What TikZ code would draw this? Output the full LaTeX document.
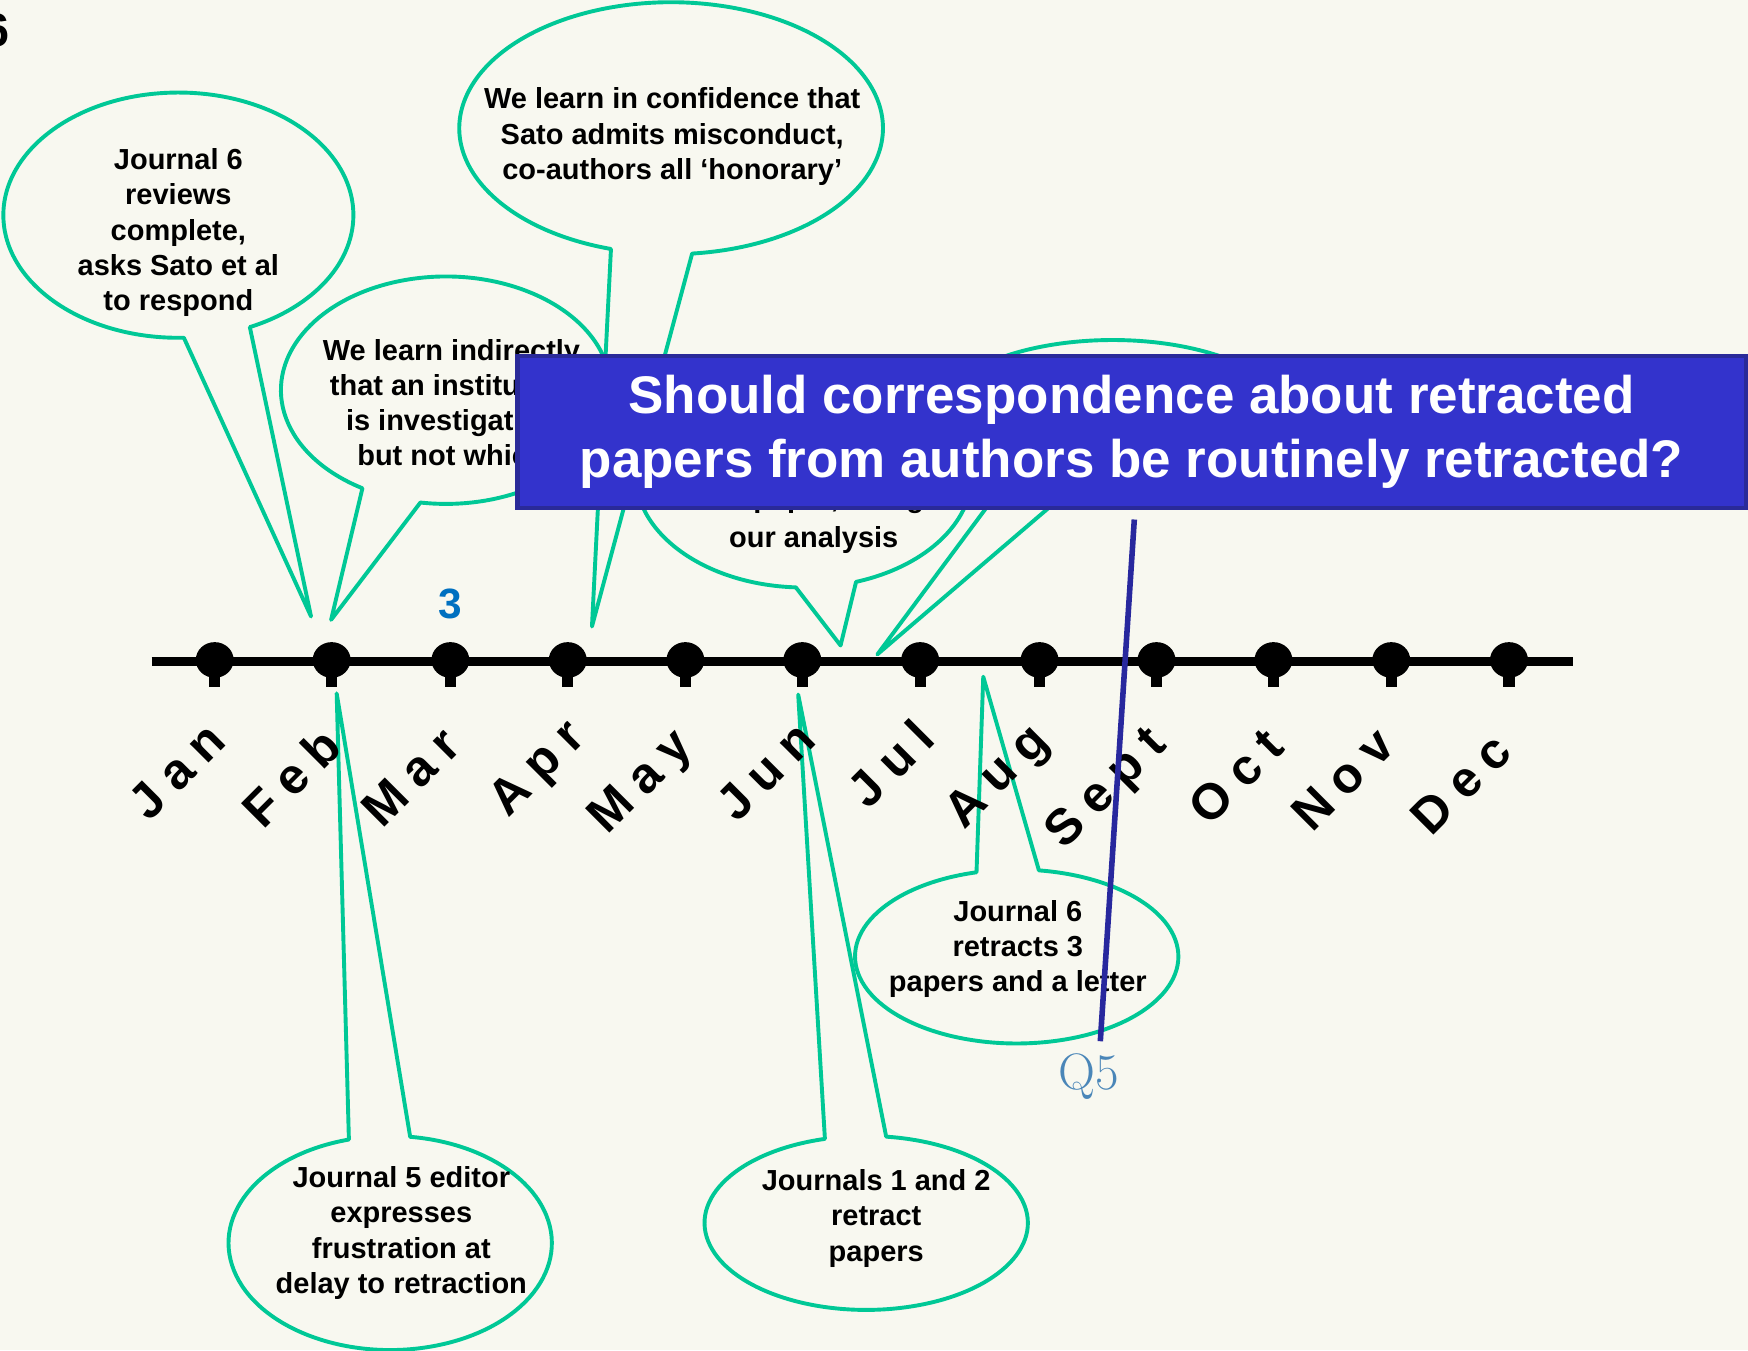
\documentclass[tikz,border=0pt]{standalone}
\usepackage{fontspec}
\newfontfamily\af{Liberation Sans}
\newfontfamily\mf{Liberation Sans}[LetterSpace=25]
\definecolor{bg}{RGB}{248,248,240}
\definecolor{bub}{RGB}{0,200,150}
\definecolor{boxfill}{RGB}{51,51,204}
\definecolor{boxline}{RGB}{42,42,153}
\definecolor{qline}{RGB}{40,40,158}
\definecolor{qtext}{RGB}{74,134,184}
\definecolor{three}{RGB}{0,112,192}
\newcommand\bubblepath[8]{%
  \filldraw[bubble] (#7,#8) -- ([shift={(#1,#2)}]#5:#3 and #4)
    arc[start angle=#5, end angle=#6, x radius=#3, y radius=#4] -- cycle;}
\begin{document}
\begin{tikzpicture}[x=1pt,y=-1pt,
  bubble/.style={draw=bub, line width=3.5pt, fill=bg, line join=round},
  btext/.style={font=\af\bfseries\fontsize{26}{31.5}\selectfont, align=center, inner sep=0pt, text=black},
  month/.style={font=\mf\bfseries\fontsize{45}{50}\selectfont, rotate=45, anchor=base west, inner sep=0pt},
]
\useasboundingbox (0,0) rectangle (1568,1211);
\clip (0,0) rectangle (1568,1211);
\fill[bg] (0,0) rectangle (1568,1211);

% corner number
\node[font=\af\bfseries\fontsize{42}{42}\selectfont, anchor=base east, inner sep=0pt] (n6) at (9,42) {6};

% callouts above the line
\bubblepath{160}{193}{157}{110}{88.2}{425.9}{279}{553}
\node[btext] (t1) at (160,208.6) {Journal 6\\reviews\\complete,\\asks Sato et al\\to respond};

\bubblepath{400}{350}{148}{102}{120.4}{458.9}{297}{556}
\node[btext] (t2) at (405,361) {We learn indirectly\\that an institution\\is investigating\\but not which};

\bubblepath{602}{115}{190}{113}{106.5}{444.3}{531}{562}
\node[btext] (t3) at (603,122.5) {We learn in confidence that\\Sato admits misconduct,\\co-authors all ‘honorary’};

\bubblepath{998}{379}{162}{74}{128}{468}{787}{587}

\bubblepath{721}{425}{151}{102}{92.7}{431.9}{754}{579}
\node[btext, anchor=base] (t4a) at (730,455.5) {his paper, citing};
\node[btext, anchor=base] (t4) at (730,491.4) {our analysis};

% callouts below the line
\bubblepath{350}{1115}{145}{96}{255.2}{-82.9}{302}{622}
\node[btext] (t6) at (360,1106) {Journal 5 editor\\expresses\\frustration at\\delay to retraction};

\bubblepath{777}{1097}{145}{78}{255.2}{-82.9}{716}{623}
\node[btext] (t7) at (786,1093) {Journals 1 and 2\\retract\\papers};

\bubblepath{912}{858}{145}{78}{255.6}{-82.1}{882}{607}
\node[btext] (t8) at (913,851) {Journal 6\\retracts 3\\papers and a letter};

% timeline
\coordinate (tlL) at (136,593);
\coordinate (tlR) at (1411,593);
\draw[line width=8pt] (tlL) -- (tlR);
\foreach \px in {192.6,297.5,404,509.3,614.8,719.7,825.4,932.5,1037.4,1142.3,1248,1353.6}{
  \fill (\px,592) ellipse [x radius=17, y radius=16];
  \fill (\px-5,600) rectangle (\px+5,616);
}

% month labels
\foreach \mname/\mx/\my [count=\i] in {Jan/134/738,Feb/236/745,Mar/343/744,Apr/456/734,May/545/750,Jun/661/739,Jul/779/727,Aug/865/745,Sept/955/763,Oct/1085/742,Nov/1177/748,Dec/1284/751}{
  \node[month] (m\i) at (\mx,\my) {\mname};
}

\node[font=\af\bfseries\fontsize{38}{38}\selectfont, text=three, inner sep=0pt] (n3) at (404,542) {3};

% question box
\node[draw=boxline, fill=boxfill, line width=4pt, minimum width=1102pt, minimum height=136pt,
      inner sep=0pt, text=white, align=center,
      font=\af\bfseries\fontsize{47.5}{57}\selectfont] (qbox) at (1015,387.5)
  {Should correspondence about retracted\\papers from authors be routinely retracted?};

% Q5 marker
\coordinate (qa) at (1017.5,466);
\coordinate (qb) at (987,934);
\draw[qline, line width=5pt] (qa) -- (qb);
\node[font=\fontsize{46}{46}\selectfont, text=qtext, anchor=base, inner sep=0pt] (q5) at (977,977) {Q5};
\end{tikzpicture}
\end{document}
